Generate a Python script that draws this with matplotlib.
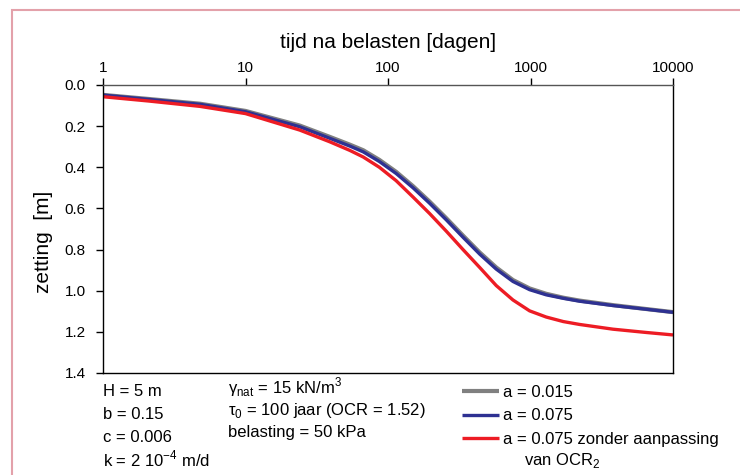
import matplotlib
matplotlib.use("Agg")
import matplotlib.pyplot as plt
from matplotlib.patches import Rectangle

# ---- DATA ----
# time after loading [days]
tijd = [1, 2.1, 4.8, 10, 24, 39, 54, 67, 87, 114, 150, 196, 256, 336, 440, 575, 753, 986,
        1290, 1700, 2210, 3790, 6490, 10000]

# settlement [m]
zetting_a015 = [0.048, 0.068, 0.091, 0.126, 0.197, 0.252, 0.290, 0.317, 0.364, 0.422, 0.492,
                0.567, 0.647, 0.732, 0.814, 0.887, 0.948, 0.989, 1.015, 1.034, 1.048, 1.070,
                1.089, 1.104]
zetting_a075 = [0.049, 0.07, 0.094, 0.13, 0.203, 0.259, 0.297, 0.325, 0.372, 0.43, 0.50,
                0.575, 0.655, 0.74, 0.822, 0.895, 0.955, 0.995, 1.02, 1.037, 1.051, 1.072,
                1.09, 1.105]
zetting_a075_zonder = [0.057, 0.078, 0.104, 0.139, 0.219, 0.276, 0.318, 0.35, 0.40, 0.465, 0.545,
                       0.625, 0.71, 0.80, 0.887, 0.975, 1.045, 1.098, 1.128, 1.150, 1.164, 1.187,
                       1.203, 1.215]

series_labels = ["a = 0.015", "a = 0.075", "a = 0.075 zonder aanpassing"]
series_colors = ["#808080", "#2e3192", "#ed1c24"]

x_ticks = [1, 10, 100, 1000, 10000]
y_ticks = [0.0, 0.2, 0.4, 0.6, 0.8, 1.0, 1.2, 1.4]

params_left = ["H = 5 m", "b = 0.15", "c = 0.006", r"k = 2 10$^{\mathregular{-4}}$ m/d"]
params_mid = [r"γ$_{\mathregular{nat}}$ = 15 kN/m$^{\mathregular{3}}$",
              r"τ$_{\mathregular{0}}$ = 100 jaar (OCR = 1.52)",
              "belasting = 50 kPa"]

# ---- PLOT ----
plt.rcParams['font.family'] = ['Liberation Sans', 'DejaVu Sans']
plt.rcParams['mathtext.fontset'] = 'custom'
plt.rcParams['mathtext.rm'] = 'Liberation Sans'

W, H = 740, 475
fig = plt.figure(figsize=(W / 100, H / 100), dpi=100)
ax = fig.add_axes([103 / W, 1 - 373 / H, (673 - 103) / W, (373 - 85) / H])

lines = []
for y, lab, col, lw in zip([zetting_a015, zetting_a075, zetting_a075_zonder],
                           series_labels, series_colors, [3.0, 2.4, 2.4]):
    ln, = ax.plot(tijd, y, color=col, lw=lw, label=lab, solid_capstyle='butt')
    lines.append(ln)

ax.set_xscale('log')
ax.set_xlim(1, 10000)
ax.set_ylim(1.4, 0.0)
ax.set_xticks(x_ticks)
ax.set_xticklabels([str(v) for v in x_ticks])
ax.minorticks_off()
ax.set_yticks(y_ticks)
ax.set_yticklabels([f"{v:.1f}" for v in y_ticks])
ax.xaxis.tick_top()
ax.tick_params(axis='both', direction='out', length=5, width=1, labelsize=11)
ax.tick_params(axis='x', pad=2.5)
ax.tick_params(axis='y', pad=7.5)
for s in ax.spines.values():
    s.set_linewidth(1.0)
ax.spines['top'].set_color('#555555')

ax.xaxis.set_label_position('top')
ax.set_xlabel("tijd na belasten [dagen]", fontsize=15, labelpad=9)
ax.set_ylabel("zetting  [m]", fontsize=15)
ax.yaxis.set_label_coords(-0.088, 0.455)

# parameter text below the axes
for i, s in enumerate(params_left):
    fig.text(103 / W, 1 - (392 + i * 22.5) / H, s, fontsize=12, va='center', ha='left')
for i, s in enumerate(params_mid):
    fig.text(228 / W, 1 - (387 + i * 23) / H, s, fontsize=12, va='center', ha='left')

leg = fig.legend(handles=lines, loc='upper left', bbox_to_anchor=(462 / W, 1 - 385 / H),
                 frameon=False, fontsize=12, handlelength=2.2, handletextpad=0.25,
                 labelspacing=0.5, borderaxespad=0, borderpad=0)
fig.text(524 / W, 1 - 461 / H, r"van OCR$_{\mathregular{2}}$", fontsize=12, va='center', ha='left')

# pink frame around the figure
fig.patches.append(Rectangle((11.5 / W, -0.05), 1.1, 1 - 9.7 / H + 0.05,
                             transform=fig.transFigure, fill=False,
                             edgecolor='#e3a1aa', lw=1.5))

fig.savefig("out.png", dpi=100)
